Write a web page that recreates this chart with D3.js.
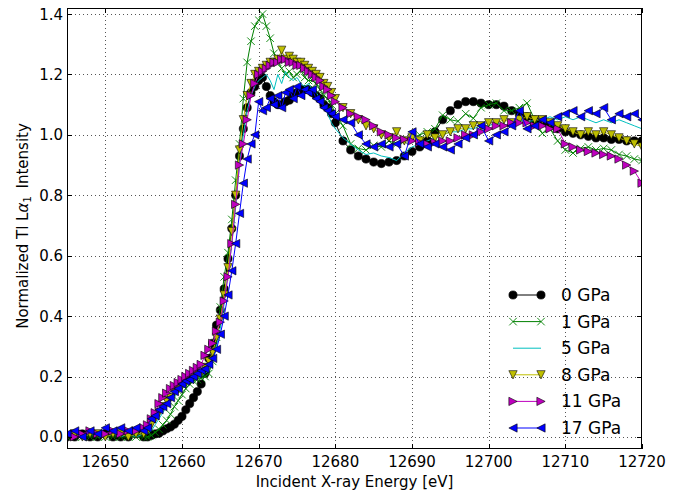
<!DOCTYPE html>
<html><head><meta charset="utf-8">
<script src="https://cdn.jsdelivr.net/npm/d3@7"></script>
<style>body{margin:0;background:#fff}svg{display:block}text{font-family:"DejaVu Sans",sans-serif;fill:#000}</style>
</head><body>
<svg id="c" width="685" height="491"></svg>
<script>
const energy = [
12645,12646,12647,12648,12649,12650,12651,12652,12653,12654,12655,
12655.5,12656,12656.5,12657,12657.5,12658,12658.5,12659,12659.5,12660,12660.5,12661,12661.5,12662,12662.5,12663,12663.5,12664,12664.5,12665,12665.5,12666,12666.5,12667,12667.5,
12668,12668.5,12669,12669.5,12670,12670.5,12671,12671.5,12672,12672.5,12673,12673.5,12674,12674.5,12675,12675.5,12676,12676.5,12677,12677.5,12678,12678.5,12679,12679.5,12680,
12681,12682,12683,12684,12685,12686,12687,12688,12689,12690,12691,12692,12693,12694,12695,12696,12697,12698,12699,12700,
12701,12702,12703,12704,12705,12706,12707,12708,12709,12710,12711,12712,12713,12714,12715,12716,12717,12718,12719,12720];

const gpa0 = [
0.00,0.00,0.01,0.00,0.00,0.01,0.00,0.00,0.00,0.01,0.00,
0.00,0.005,0.01,0.012,0.02,0.027,0.033,0.042,0.055,0.068,0.09,0.11,0.13,0.15,0.175,0.21,0.26,0.31,0.37,0.42,0.49,0.59,0.69,0.80,0.93,
1.02,1.09,1.14,1.16,1.18,1.19,1.16,1.13,1.11,1.10,1.10,1.11,1.115,1.13,1.14,1.15,1.15,1.15,1.14,1.13,1.12,1.10,1.09,1.07,1.04,
0.98,0.95,0.93,0.92,0.91,0.905,0.91,0.915,0.93,0.945,0.96,0.98,1.01,1.05,1.08,1.10,1.11,1.11,1.105,1.10,
1.10,1.095,1.08,1.07,1.06,1.05,1.04,1.03,1.02,1.01,1.005,1.00,0.995,0.99,0.99,0.985,0.985,0.98,0.98,0.98];

const gpa1 = [
0.00,0.00,0.00,0.00,0.00,0.00,0.00,0.00,0.00,0.00,0.00,
0.00,0.005,0.015,0.025,0.04,0.055,0.075,0.10,0.12,0.14,0.16,0.175,0.185,0.19,0.195,0.20,0.21,0.25,0.33,0.43,0.53,0.61,0.72,0.85,0.97,
1.12,1.24,1.31,1.36,1.38,1.40,1.36,1.32,1.27,1.24,1.22,1.20,1.21,1.19,1.20,1.215,1.19,1.18,1.18,1.17,1.15,1.13,1.12,1.10,1.07,
1.03,0.97,0.955,0.95,0.965,0.96,0.98,0.97,0.98,0.99,1.00,1.01,1.02,1.065,1.05,1.045,1.07,1.055,1.09,1.10,
1.105,1.08,1.08,1.09,1.105,1.05,1.005,1.02,0.98,0.95,0.94,0.955,0.96,0.95,0.955,0.95,0.935,0.93,0.92,0.915];

const gpa5 = [
0.00,0.01,0.00,0.01,0.00,0.00,0.01,0.00,0.01,0.00,0.01,
0.01,0.02,0.04,0.06,0.08,0.10,0.12,0.13,0.15,0.16,0.17,0.18,0.19,0.195,0.20,0.21,0.22,0.25,0.30,0.36,0.44,0.54,0.64,0.76,0.90,
1.00,1.08,1.13,1.16,1.18,1.19,1.20,1.18,1.15,1.20,1.17,1.21,1.19,1.18,1.19,1.17,1.16,1.17,1.15,1.14,1.12,1.10,1.07,1.04,1.02,
0.99,0.97,0.95,0.935,0.94,0.93,0.925,0.915,0.94,0.96,0.97,0.98,0.99,1.00,1.01,1.01,1.02,1.02,1.03,1.03,
1.04,1.03,1.04,1.05,1.04,1.05,1.05,1.06,1.05,1.06,1.05,1.06,1.05,1.04,1.05,1.04,1.05,1.04,1.03,1.02];

const gpa8 = [
0.00,0.01,0.00,0.01,0.01,0.00,0.01,0.01,0.00,0.01,0.01,
0.02,0.04,0.06,0.08,0.10,0.12,0.13,0.15,0.16,0.17,0.18,0.19,0.20,0.205,0.21,0.23,0.25,0.28,0.33,0.39,0.47,0.56,0.68,0.80,0.95,
1.05,1.13,1.17,1.20,1.21,1.22,1.23,1.24,1.24,1.25,1.28,1.25,1.26,1.25,1.24,1.24,1.23,1.22,1.21,1.20,1.19,1.17,1.16,1.14,1.12,
1.09,1.07,1.05,1.03,1.02,1.00,0.99,1.01,0.98,0.99,0.98,1.00,0.99,1.00,1.01,1.02,1.02,1.03,1.03,1.04,
1.04,1.05,1.04,1.05,1.06,1.05,1.05,1.04,1.03,1.02,1.01,1.00,1.01,1.00,1.01,1.00,0.99,0.98,0.97,0.96];

const gpa11 = [
0.01,0.00,0.01,0.02,0.01,0.01,0.02,0.01,0.02,0.02,0.03,
0.04,0.06,0.08,0.11,0.13,0.145,0.16,0.17,0.18,0.19,0.20,0.21,0.22,0.23,0.24,0.27,0.29,0.31,0.35,0.38,0.45,0.53,0.64,0.77,0.90,
0.97,1.05,1.13,1.17,1.20,1.21,1.22,1.23,1.24,1.24,1.25,1.25,1.24,1.24,1.23,1.23,1.22,1.21,1.20,1.19,1.18,1.16,1.15,1.13,1.11,
1.09,1.07,1.06,1.05,1.03,1.01,1.00,0.99,0.985,0.98,0.975,0.97,0.975,0.98,0.98,0.99,1.00,1.00,1.01,1.02,
1.03,1.03,1.04,1.04,1.04,1.03,1.03,1.02,1.02,0.97,0.96,0.95,0.945,0.94,0.935,0.93,0.92,0.90,0.88,0.84];

const gpa17 = [
0.01,0.02,0.00,0.02,0.01,0.03,0.02,0.03,0.02,0.03,0.02,
0.03,0.06,0.07,0.09,0.10,0.11,0.13,0.15,0.16,0.175,0.185,0.19,0.20,0.21,0.22,0.225,0.24,0.26,0.29,0.34,0.40,0.47,0.55,0.64,0.74,
0.84,0.92,0.97,1.00,1.11,1.08,1.09,1.12,1.10,1.13,1.09,1.14,1.15,1.12,1.16,1.13,1.15,1.14,1.15,1.12,1.11,1.09,1.08,1.07,1.06,
1.05,1.04,1.00,0.97,0.96,0.97,0.96,0.97,0.93,1.01,0.97,0.96,0.97,0.96,0.95,0.97,0.99,1.00,1.03,0.98,
1.00,1.01,1.03,1.08,1.02,1.03,1.05,1.04,1.06,1.07,1.08,1.06,1.08,1.07,1.09,1.05,1.07,1.06,1.07,1.05];

const seriesLabels = ["0 GPa","1 GPa","5 GPa","8 GPa","11 GPa","17 GPa"];
const xTicks = [12650,12660,12670,12680,12690,12700,12710,12720];
const yTicks = [0.0,0.2,0.4,0.6,0.8,1.0,1.2,1.4];

const seriesValues = [gpa0,gpa1,gpa5,gpa8,gpa11,gpa17];
const styles = [
  {color:"#000000", marker:"o", fill:"#000000"},
  {color:"#008000", marker:"x", fill:"none"},
  {color:"#00bfbf", marker:null, fill:null},
  {color:"#bfbf00", marker:"v", fill:"#bfbf00"},
  {color:"#bf00bf", marker:">", fill:"#bf00bf"},
  {color:"#0000ff", marker:"<", fill:"#0000ff"}
];

const m={left:67,right:642,top:8,bottom:449};
const svg=d3.select("#c");
const x=d3.scaleLinear().domain([12645,12720]).range([m.left,m.right]);
const y=d3.scaleLinear().domain([-0.04,1.42]).range([m.bottom,m.top]);

svg.append("defs").append("clipPath").attr("id","clip").append("rect")
  .attr("x",m.left).attr("y",m.top).attr("width",m.right-m.left).attr("height",m.bottom-m.top);

const grid=svg.append("g").attr("stroke","#555").attr("stroke-width",1).attr("stroke-dasharray","1,3");
xTicks.forEach(t=>{ if(x(t)<m.right-1) grid.append("line").attr("x1",Math.round(x(t))+0.5).attr("x2",Math.round(x(t))+0.5).attr("y1",m.top).attr("y2",m.bottom); });
yTicks.forEach(t=>grid.append("line").attr("x1",m.left).attr("x2",m.right).attr("y1",Math.round(y(t))+0.5).attr("y2",Math.round(y(t))+0.5));

function markerPath(type,s){
  const h=s/2;
  if(type==="v") return `M0,${h}L${-h},${-h}L${h},${-h}Z`;
  if(type===">") return `M${h},0L${-h},${-h}L${-h},${h}Z`;
  if(type==="<") return `M${-h},0L${h},${-h}L${h},${h}Z`;
  if(type==="x") return `M${-h},${-h}L${h},${h}M${-h},${h}L${h},${-h}`;
  return null;
}
function drawMarker(g,type,st,px,py){
  if(!type) return;
  if(type==="o"){
    g.append("circle").attr("cx",px).attr("cy",py).attr("r",4.1).attr("fill",st.fill).attr("stroke","#000").attr("stroke-width",0.6);
  } else if(type==="x"){
    g.append("path").attr("transform",`translate(${px},${py})`).attr("d",markerPath("x",7.5)).attr("fill","none").attr("stroke",st.color).attr("stroke-width",0.9);
  } else {
    g.append("path").attr("transform",`translate(${px},${py})`).attr("d",markerPath(type,8.3)).attr("fill",st.fill).attr("stroke","#000").attr("stroke-width",0.6);
  }
}

const plot=svg.append("g").attr("clip-path","url(#clip)");
const line=d3.line().x(d=>x(d[0])).y(d=>y(d[1]));
seriesValues.forEach((vals,i)=>{
  const st=styles[i];
  const pts=energy.map((e,k)=>[e,vals[k]]);
  const g=plot.append("g");
  g.append("path").attr("d",line(pts)).attr("fill","none").attr("stroke",st.color).attr("stroke-width",1);
  pts.forEach(p=>drawMarker(g,st.marker,st,x(p[0]),y(p[1])));
});

svg.append("rect").attr("x",m.left+0.5).attr("y",m.top+0.5).attr("width",m.right-m.left-1).attr("height",m.bottom-m.top-1)
  .attr("fill","none").attr("stroke","#000").attr("stroke-width",1);

const tk=svg.append("g").attr("stroke","#000").attr("stroke-width",1);
xTicks.forEach(t=>{const px=Math.round(x(t))+0.5;
  tk.append("line").attr("x1",px).attr("x2",px).attr("y1",m.bottom).attr("y2",m.bottom-5);
  tk.append("line").attr("x1",px).attr("x2",px).attr("y1",m.top).attr("y2",m.top+5);
  svg.append("text").attr("x",x(t)).attr("y",m.bottom+18).attr("text-anchor","middle").attr("font-size",15).text(t);
});
yTicks.forEach(t=>{const py=Math.round(y(t))+0.5;
  tk.append("line").attr("x1",m.left).attr("x2",m.left+5).attr("y1",py).attr("y2",py);
  tk.append("line").attr("x1",m.right).attr("x2",m.right-5).attr("y1",py).attr("y2",py);
  svg.append("text").attr("x",m.left-4).attr("y",y(t)+5.5).attr("text-anchor","end").attr("font-size",15).text(t.toFixed(1));
});

svg.append("text").attr("x",(m.left+m.right)/2).attr("y",487).attr("text-anchor","middle").attr("font-size",15).text("Incident X-ray Energy [eV]");
const yl=svg.append("text").attr("transform","translate(28,226) rotate(-90)").attr("text-anchor","middle").attr("font-size",15);
yl.append("tspan").text("Normalized Tl L");
yl.append("tspan").attr("font-style","italic").text("α");
yl.append("tspan").attr("font-size",10.5).attr("dy",3).text("1");
yl.append("tspan").attr("dy",-3).text("\u2002Intensity");

const lg=svg.append("g");
seriesLabels.forEach((lab,i)=>{
  const st=styles[i];
  const ly=295+i*26.6;
  const lx0=513,lx1=541;
  lg.append("line").attr("x1",lx0).attr("x2",lx1).attr("y1",ly).attr("y2",ly).attr("stroke",st.color).attr("stroke-width",1);
  drawMarker(lg,st.marker,st,lx0,ly);
  drawMarker(lg,st.marker,st,lx1,ly);
  lg.append("text").attr("x",561).attr("y",ly+6).attr("font-size",17).text(lab);
});
</script>
</body></html>
